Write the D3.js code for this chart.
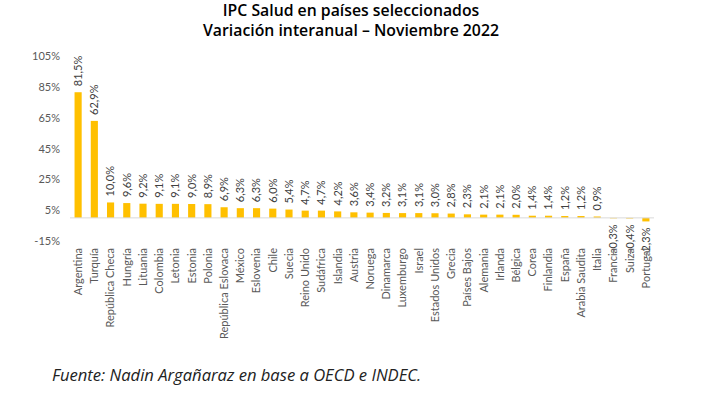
<!DOCTYPE html>
<html>
<head>
<meta charset="utf-8">
<script src="https://cdn.jsdelivr.net/npm/d3@7"></script>
<style>
  body { margin: 0; background: #fff; }
  svg { display: block; }
</style>
</head>
<body>
<div id="chart"></div>
<script>
// datos: IPC salud, var. interanual nov 2022 (%)
const countries = [
  "Argentina", "Turquía", "República Checa", "Hungría", "Lituania", "Colombia",
  "Letonia", "Estonia", "Polonia", "República Eslovaca", "México", "Eslovenia",
  "Chile", "Suecia", "Reino Unido", "Sudáfrica", "Islandia", "Austria",
  "Noruega", "Dinamarca", "Luxemburgo", "Israel", "Estados Unidos", "Grecia",
  "Países Bajos", "Alemania", "Irlanda", "Bélgica", "Corea", "Finlandia",
  "España", "Arabia Saudita", "Italia", "Francia", "Suiza", "Portugal"
];
const values = [
  81.5, 62.9, 10.0, 9.6, 9.2, 9.1,
  9.1, 9.0, 8.9, 6.9, 6.3, 6.3,
  6.0, 5.4, 4.7, 4.7, 4.2, 3.6,
  3.4, 3.2, 3.1, 3.1, 3.0, 2.8,
  2.3, 2.1, 2.1, 2.0, 1.4, 1.4,
  1.2, 1.2, 0.9, -0.3, -0.4, -2.3
];
const yTicks = [-15, 5, 25, 45, 65, 85, 105];
const titleLines = ["IPC Salud en países seleccionados", "Variación interanual – Noviembre 2022"];
const source = "Fuente: Nadin Argañaraz en base a OECD e INDEC.";

const width = 703;
const height = 394;
const font = "Lato, 'Liberation Sans', sans-serif";

const es = d3.formatLocale({decimal: ",", thousands: ".", grouping: [3], currency: ["", ""]});
const fmt = es.format(".1f");

const svg = d3.select("#chart").append("svg")
  .attr("width", width)
  .attr("height", height);

const x = d3.scaleBand()
  .domain(countries)
  .range([70, 654])
  .paddingInner(0.56)
  .paddingOuter(0.28);

const y = d3.scaleLinear()
  .domain([-15, 105])
  .range([241, 56]);

// titulo
svg.append("g").selectAll("text")
  .data(titleLines)
  .enter().append("text")
  .attr("x", 351)
  .attr("y", (d, i) => 16 + i * 20)
  .attr("text-anchor", "middle")
  .style("font-family", "'Open Sans', sans-serif")
  .style("font-weight", "600")
  .style("font-size", "15.8px")
  .attr("fill", "#000")
  .text(d => d);

// eje y (solo etiquetas)
const yAxis = svg.append("g")
  .attr("transform", "translate(60,0)")
  .call(d3.axisLeft(y).tickValues(yTicks).tickSize(0).tickPadding(0).tickFormat(d => d + "%"));
yAxis.select(".domain").remove();
yAxis.selectAll("text")
  .style("font-family", font)
  .style("font-size", "11px")
  .attr("fill", "#595959");

// barras
svg.append("g").selectAll("rect")
  .data(values)
  .enter().append("rect")
  .attr("x", (d, i) => x(countries[i]))
  .attr("width", x.bandwidth())
  .attr("y", d => y(Math.max(0, d)))
  .attr("height", d => Math.abs(y(d) - y(0)))
  .attr("fill", "#FFC000");

// linea del cero
svg.append("line")
  .attr("x1", x.range()[0])
  .attr("x2", x.range()[1])
  .attr("y1", y(0))
  .attr("y2", y(0))
  .attr("stroke", "#d9d9d9")
  .attr("stroke-width", 1);

// etiquetas de valores
svg.append("g").selectAll("text")
  .data(values)
  .enter().append("text")
  .attr("transform", (d, i) => {
    let cx = x(countries[i]) + x.bandwidth() / 2;
    let cy = d >= 0 ? y(d) - 6 : y(d) + 6;
    return "translate(" + cx + "," + cy + ") rotate(-90)";
  })
  .attr("dy", "0.35em")
  .attr("text-anchor", d => d >= 0 ? "start" : "end")
  .style("font-family", font)
  .style("font-size", "11px")
  .attr("fill", "#404040")
  .text(d => fmt(d) + "%");

// categorias
svg.append("g").selectAll("text")
  .data(countries)
  .enter().append("text")
  .attr("transform", d => "translate(" + (x(d) + x.bandwidth() / 2) + ",248) rotate(-90)")
  .attr("dy", "0.35em")
  .attr("text-anchor", "end")
  .style("font-family", font)
  .style("font-size", "11px")
  .attr("fill", "#595959")
  .text(d => d);

// fuente
svg.append("text")
  .attr("x", 52)
  .attr("y", 381)
  .style("font-family", "'Open Sans', sans-serif")
  .style("font-style", "italic")
  .style("font-size", "16.6px")
  .attr("fill", "#222")
  .text(source);
</script>
</body>
</html>
